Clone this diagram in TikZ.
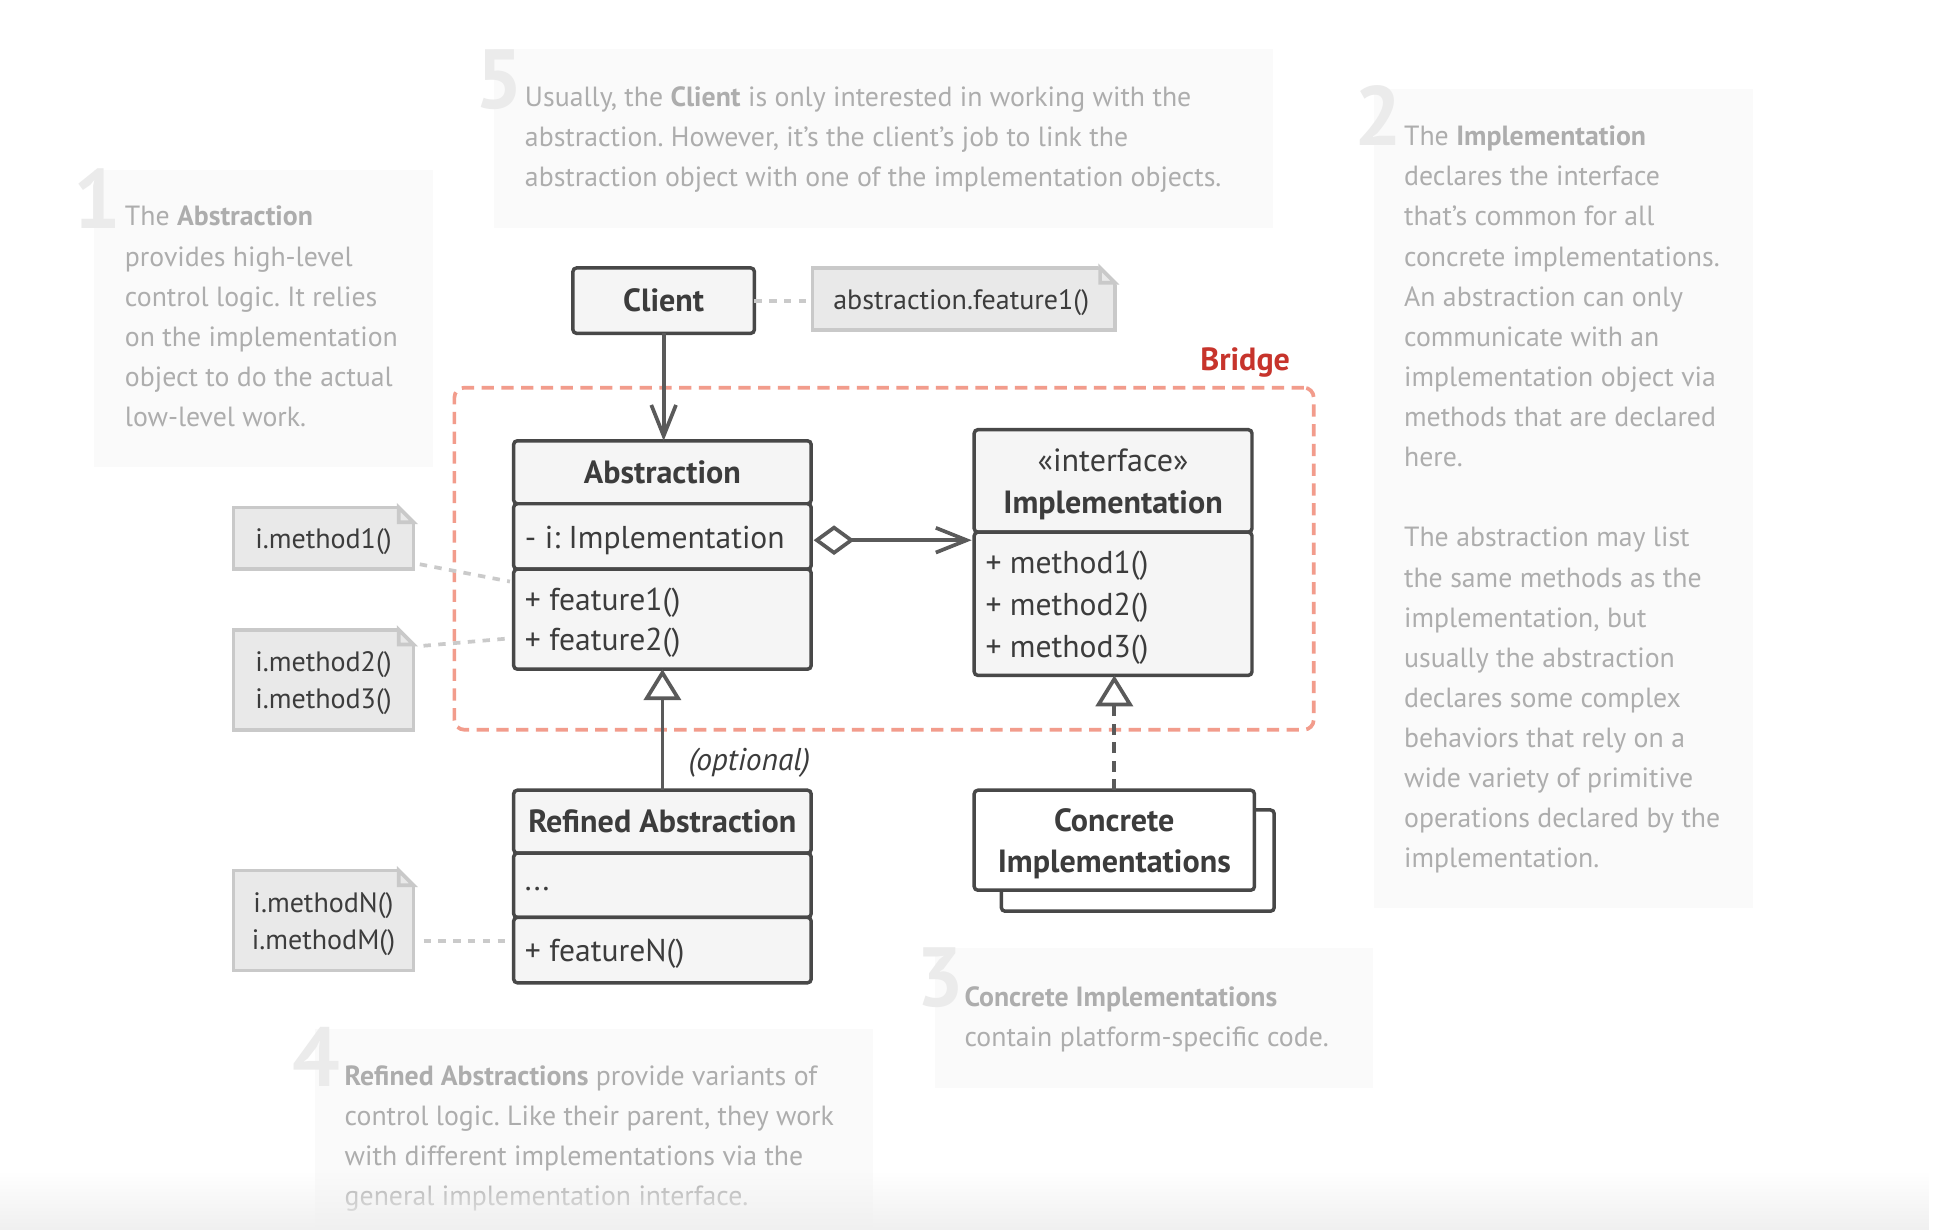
\documentclass[tikz,border=0pt]{standalone}
\usepackage{fontspec}
\setmainfont{PT Sans}
\usetikzlibrary{arrows.meta,calc,fadings}
\frenchspacing

\definecolor{boxline}{HTML}{484848}
\definecolor{boxfill}{HTML}{F5F5F5}
\definecolor{ink}{HTML}{3C3C3C}
\definecolor{arrowc}{HTML}{5A5A5A}
\definecolor{notefill}{HTML}{E9E9E9}
\definecolor{notedraw}{HTML}{C9C9C9}
\definecolor{dotc}{HTML}{CACACA}
\definecolor{bridgec}{HTML}{F29C8C}
\definecolor{bridgetext}{HTML}{C7342C}
\definecolor{panelfill}{HTML}{FAFAFA}
\definecolor{paneltext}{HTML}{ADADAD}
\definecolor{numc}{HTML}{EBEBEB}

\tikzfading[name=risefade, top color=transparent!100, bottom color=transparent!0]

% folded top-right corner of a note node
\newcommand{\foldcorner}[1]{%
  \fill[white] ($(#1.north east)+(-15,-3)$) -- ($(#1.north east)+(3,-3)$) -- ($(#1.north east)+(3,15)$) -- cycle;
  \draw[notedraw, line width=3pt, line join=miter] ($(#1.north east)+(-12,0)$) -- ($(#1.north east)+(-12,12)$) -- ($(#1.north east)+(0,12)$) -- cycle;
}
% top-aligned paragraph for the explanation panels
\newcommand{\paneltxt}[1]{\parbox[t]{700pt}{\raggedright #1}}

\begin{document}
\begin{tikzpicture}[x=1pt,y=-1pt,
  comp/.style={draw=boxline, fill=boxfill, line width=2.8pt, rounded corners=3pt,
    inner sep=0pt, outer sep=0pt, anchor=north west},
  member/.style={anchor=west, inner sep=0pt, align=left, text=ink,
    font=\fontsize{25.6}{33}\selectfont},
  ctext/.style={anchor=center, inner sep=0pt, align=center, text=ink,
    font=\fontsize{26}{34}\selectfont},
  title/.style={ctext, font=\fontsize{26}{33}\selectfont\bfseries},
  note/.style={draw=notedraw, fill=notefill, line width=3pt, outer sep=0pt, inner sep=0pt,
    anchor=north west},
  notetext/.style={anchor=center, inner sep=0pt, align=center, text=ink,
    font=\fontsize{22.7}{30}\selectfont},
  dotline/.style={draw=dotc, line width=3pt, dash pattern=on 6pt off 6pt},
  assoc/.style={draw=arrowc, line width=3pt, -{Straight Barb[length=25pt,width=20pt]}},
  aggr/.style={draw=arrowc, line width=3pt,
    {Diamond[length=33pt,width=24pt,fill=white]}-{Straight Barb[length=25pt,width=20pt]}},
  inherit/.style={draw=arrowc, line width=3pt, -{Triangle[length=25pt,width=30pt,fill=white]}},
  realize/.style={inherit, dash pattern=on 9pt off 6pt},
  panel/.style={fill=panelfill},
  num/.style={anchor=base west, inner sep=0pt, text=numc, font=\fontsize{68}{68}\selectfont\bfseries},
  ptext/.style={anchor=base west, inner sep=0pt, text=paneltext, font=\fontsize{22.5}{32.5}\selectfont},
]
\useasboundingbox (0,0) rectangle (1568,996);
\fill[white] (0,0) rectangle (1568,996);

% ---------- explanation panels ----------
\fill[panel] (76,138) rectangle (351,378);
\fill[panel] (400,40) rectangle (1031,185);
\fill[panel] (1113,72) rectangle (1420,735);
\fill[panel] (757,768) rectangle (1112,881);
\fill[panel] (255,833) rectangle (707,996);

\node[num] (d1) at (59,185) {1};
\node[num] (d5) at (385,88) {5};
\node[num] (d2) at (1097,118) {2};
\node[num] (d3) at (742,815) {3};
\node[num] (d4) at (237,880) {4};

\node[ptext] (t1) at (101,183) {\paneltxt{The \textbf{Abstraction}\\provides high-level\\control logic. It relies\\on the implementation\\object to do the actual\\low-level work.}};
\node[ptext] (t5) at (425,86) {\paneltxt{Usually, the \textbf{Client} is only interested in working with the\\abstraction. However, it’s the client’s job to link the\\abstraction object with one of the implementation objects.}};
\node[ptext] (t2) at (1137,118) {\paneltxt{The \textbf{Implementation}\\declares the interface\\that’s common for all\\concrete implementations.\\An abstraction can only\\communicate with an\\implementation object via\\methods that are declared\\here.\\[32.5pt]The abstraction may list\\the same methods as the\\implementation, but\\usually the abstraction\\declares some complex\\behaviors that rely on a\\wide variety of primitive\\operations declared by the\\implementation.}};
\node[ptext] (t3) at (781,815) {\paneltxt{\textbf{Concrete Implementations}\\contain platform-specific code.}};
\node[ptext] (t4) at (279,879) {\paneltxt{\textbf{Refined Abstractions} provide variants of\\control logic. Like their parent, they work\\with different implementations via the\\general implementation interface.}};

% ---------- bridge boundary ----------
\node[draw=bridgec, line width=3pt, dash pattern=on 10pt off 6pt, rounded corners=8pt,
  minimum width=696pt, minimum height=277pt, anchor=north west, outer sep=0pt] (bridge) at (368,314) {};
\node[anchor=base east, inner sep=0pt, text=bridgetext, font=\fontsize{26}{30}\selectfont\bfseries] (bridgelbl) at (1045,300) {Bridge};

% ---------- classes ----------
\node[comp, minimum width=147pt, minimum height=53pt] (client) at (464,217) {};
\node[title] (clientT) at (client.center) {Client};

\node[comp, minimum width=241pt, minimum height=51pt] (absH) at (416,357) {};
\node[comp, minimum width=241pt, minimum height=53pt] (absF) at (416,408) {};
\node[comp, minimum width=241pt, minimum height=81pt] (absM) at (416,461) {};
\node[title] (absHT) at (absH.center) {Abstraction};
\node[member] (absFT) at ($(absF.west)+(9,3)$) {- i: Implementation};
\node[member, font=\fontsize{25.6}{32}\selectfont] (absMT) at ($(absM.west)+(9,3)$) {+ feature1()\\+ feature2()};

\node[comp, minimum width=225pt, minimum height=83pt] (implH) at (789,348) {};
\node[comp, minimum width=225pt, minimum height=116pt] (implM) at (789,431) {};
\node[ctext] (implHT) at ($(implH.center)+(0,3)$) {«interface»\\\textbf{Implementation}};
\node[member, font=\fontsize{25.6}{34}\selectfont] (implMT) at ($(implM.west)+(9,3)$) {+ method1()\\+ method2()\\+ method3()};

\node[comp, minimum width=241pt, minimum height=51pt] (refH) at (416,640) {};
\node[comp, minimum width=241pt, minimum height=52pt] (refF) at (416,691) {};
\node[comp, minimum width=241pt, minimum height=53pt] (refM) at (416,743) {};
\node[title] (refHT) at (refH.center) {Refined Abstraction};
\node[member] (refFT) at ($(refF.west)+(9,3)$) {...};
\node[member] (refMT) at ($(refM.west)+(9,3)$) {+ featureN()};

\node[comp, fill=white, minimum width=221pt, minimum height=82pt] (concB) at (811,656) {};
\node[comp, fill=white, minimum width=227pt, minimum height=81pt] (conc) at (789,640) {};
\node[title] (concT) at ($(conc.center)+(0,3)$) {Concrete\\Implementations};

% ---------- notes ----------
\node[note, minimum width=245pt, minimum height=50pt] (n0) at (658,217) {};
\node[note, minimum width=146pt, minimum height=50pt] (n1) at (189,411) {};
\node[note, minimum width=146pt, minimum height=81pt] (n2) at (189,510) {};
\node[note, minimum width=146pt, minimum height=81pt] (n3) at (189,705) {};
\foldcorner{n0}
\foldcorner{n1}
\foldcorner{n2}
\foldcorner{n3}
\node[notetext] (n0T) at ($(n0.center)+(-2,3)$) {abstraction.feature1()};
\node[notetext] (n1T) at ($(n1.center)+(0,3)$) {i.method1()};
\node[notetext] (n2T) at ($(n2.center)+(0,3)$) {i.method2()\\i.method3()};
\node[notetext] (n3T) at ($(n3.center)+(0,3)$) {i.methodN()\\i.methodM()};

% ---------- connectors ----------
\draw[dotline] (client.east) -- (client.east -| n0.west);
\draw[dotline] ($(n1.south east)+(5,-4)$) -- ($(absM.north west)+(-3,10)$);
\draw[dotline] ($(n2.north east)+(8,13)$) -- ($(absM.north west)+(-3,56)$);
\draw[dotline] ($(n3.north east)+(8,57)$) -- ($(refM.north west)+(-3,19)$);

\draw[assoc] (client.south) -- (client.south |- absH.north);
\draw[aggr] ($(absF.east)+(2,3)$) -- ($(absF.east -| implM.west)+(-2,3)$);
\draw[inherit] (refH.north) -- (refH.north |- absM.south);
\draw[realize] (conc.north) -- (conc.north |- implM.south);

\node[anchor=center, inner sep=0pt, text=ink, font=\fontsize{25.5}{30}\selectfont\itshape] (opt) at (607,618) {(optional)};

% soft grey rise along the lower edge
\fill[black!6, path fading=risefade] (0,950) rectangle (1568,996);
\end{tikzpicture}
\end{document}
